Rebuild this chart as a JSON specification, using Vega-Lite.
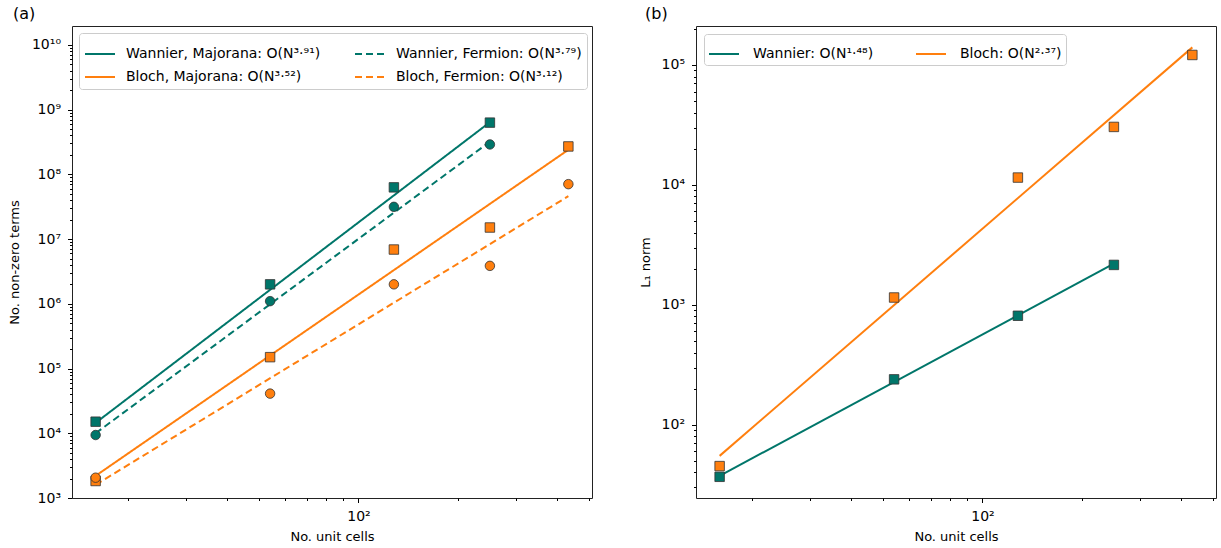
{
  "$schema": "https://vega.github.io/schema/vega-lite/v6.json",
  "padding": {"left": 7, "top": 5, "right": 5, "bottom": 5},
  "config": {
    "font": "DejaVu Sans",
    "view": {"stroke": "#222", "strokeWidth": 1},
    "axis": {"grid": false, "domain": false, "tickColor": "#000", "tickWidth": 1, "labelColor": "#000", "titleColor": "#000", "labelFontSize": 14, "titleFontSize": 13, "titleFontWeight": "normal", "labelFont": "DejaVu Sans", "titleFont": "DejaVu Sans"},
    "legend": {"labelFontSize": 14, "labelFont": "DejaVu Sans", "labelColor": "#000", "labelLimit": 400},
    "title": {"fontSize": 16, "fontWeight": "normal", "font": "DejaVu Sans", "color": "#000"}
  },
  "datasets": {
    "linesA": [
      {"N": 16, "v": 14500, "series": "Wannier, Majorana: O(N³·⁹¹)"},
      {"N": 250, "v": 640000000, "series": "Wannier, Majorana: O(N³·⁹¹)"},
      {"N": 16, "v": 10000, "series": "Wannier, Fermion: O(N³·⁷⁹)"},
      {"N": 250, "v": 320000000, "series": "Wannier, Fermion: O(N³·⁷⁹)"},
      {"N": 16, "v": 2200, "series": "Bloch, Majorana: O(N³·⁵²)"},
      {"N": 432, "v": 240000000, "series": "Bloch, Majorana: O(N³·⁵²)"},
      {"N": 16, "v": 1600, "series": "Bloch, Fermion: O(N³·¹²)"},
      {"N": 432, "v": 46000000, "series": "Bloch, Fermion: O(N³·¹²)"}
    ],
    "ptsA": [
      {"N": 16, "v": 15100, "series": "Wannier, Majorana: O(N³·⁹¹)", "marker": "square"},
      {"N": 54, "v": 2000000, "series": "Wannier, Majorana: O(N³·⁹¹)", "marker": "square"},
      {"N": 128, "v": 63000000, "series": "Wannier, Majorana: O(N³·⁹¹)", "marker": "square"},
      {"N": 250, "v": 630000000, "series": "Wannier, Majorana: O(N³·⁹¹)", "marker": "square"},
      {"N": 16, "v": 1830, "series": "Bloch, Majorana: O(N³·⁵²)", "marker": "square"},
      {"N": 54, "v": 150000, "series": "Bloch, Majorana: O(N³·⁵²)", "marker": "square"},
      {"N": 128, "v": 6900000, "series": "Bloch, Majorana: O(N³·⁵²)", "marker": "square"},
      {"N": 250, "v": 15100000, "series": "Bloch, Majorana: O(N³·⁵²)", "marker": "square"},
      {"N": 432, "v": 270000000, "series": "Bloch, Majorana: O(N³·⁵²)", "marker": "square"},
      {"N": 16, "v": 9400, "series": "Wannier, Fermion: O(N³·⁷⁹)", "marker": "circle"},
      {"N": 54, "v": 1100000, "series": "Wannier, Fermion: O(N³·⁷⁹)", "marker": "circle"},
      {"N": 128, "v": 31500000, "series": "Wannier, Fermion: O(N³·⁷⁹)", "marker": "circle"},
      {"N": 250, "v": 290000000, "series": "Wannier, Fermion: O(N³·⁷⁹)", "marker": "circle"},
      {"N": 16, "v": 2060, "series": "Bloch, Fermion: O(N³·¹²)", "marker": "circle"},
      {"N": 54, "v": 41000, "series": "Bloch, Fermion: O(N³·¹²)", "marker": "circle"},
      {"N": 128, "v": 2000000, "series": "Bloch, Fermion: O(N³·¹²)", "marker": "circle"},
      {"N": 250, "v": 3860000, "series": "Bloch, Fermion: O(N³·¹²)", "marker": "circle"},
      {"N": 432, "v": 70600000, "series": "Bloch, Fermion: O(N³·¹²)", "marker": "circle"}
    ],
    "linesB": [
      {"N": 16, "v": 37.5, "series": "Wannier: O(N¹·⁴⁸)"},
      {"N": 250, "v": 2200, "series": "Wannier: O(N¹·⁴⁸)"},
      {"N": 16, "v": 55, "series": "Bloch: O(N²·³⁷)"},
      {"N": 432, "v": 140000, "series": "Bloch: O(N²·³⁷)"}
    ],
    "ptsB": [
      {"N": 16, "v": 36.8, "series": "Wannier: O(N¹·⁴⁸)"},
      {"N": 54, "v": 239, "series": "Wannier: O(N¹·⁴⁸)"},
      {"N": 128, "v": 810, "series": "Wannier: O(N¹·⁴⁸)"},
      {"N": 250, "v": 2150, "series": "Wannier: O(N¹·⁴⁸)"},
      {"N": 16, "v": 45.2, "series": "Bloch: O(N²·³⁷)"},
      {"N": 54, "v": 1150, "series": "Bloch: O(N²·³⁷)"},
      {"N": 128, "v": 11500, "series": "Bloch: O(N²·³⁷)"},
      {"N": 250, "v": 30400, "series": "Bloch: O(N²·³⁷)"},
      {"N": 432, "v": 121000, "series": "Bloch: O(N²·³⁷)"}
    ]
  },
  "spacing": 45,
  "hconcat": [
    {
      "width": 520,
      "height": 472,
      "title": {"text": "(a)", "anchor": "start", "frame": "group", "dx": -59, "offset": 4},
      "layer": [
        {
          "data": {"name": "linesA"},
          "mark": {"type": "line", "strokeWidth": 2, "clip": true},
          "encoding": {
            "x": {"field": "N", "type": "quantitative", "scale": {"type": "log", "domain": [13.57, 509.4], "nice": false},
              "axis": {"orient": "bottom", "values": [100], "tickSize": 4.5, "labelPadding": 7, "title": "No. unit cells", "titlePadding": 7,
                "labelExpr": "'10' + replace(replace(replace(replace(replace(replace(replace(replace(replace(replace(''+round(log(datum.value)/LN10),'0','⁰'),'1','¹'),'2','²'),'3','³'),'4','⁴'),'5','⁵'),'6','⁶'),'7','⁷'),'8','⁸'),'9','⁹')"}},
            "y": {"field": "v", "type": "quantitative", "scale": {"type": "log", "domain": [1000, 19600000000], "nice": false},
              "axis": {"orient": "left", "values": [1000, 10000, 100000, 1000000, 10000000, 100000000, 1000000000, 10000000000], "tickSize": 4.5, "labelPadding": 7, "title": "No. non-zero terms", "titlePadding": 10,
                "labelExpr": "'10' + replace(replace(replace(replace(replace(replace(replace(replace(replace(replace(''+round(log(datum.value)/LN10),'0','⁰'),'1','¹'),'2','²'),'3','³'),'4','⁴'),'5','⁵'),'6','⁶'),'7','⁷'),'8','⁸'),'9','⁹')"}},
            "color": {"field": "series", "type": "nominal",
              "scale": {"domain": ["Wannier, Majorana: O(N³·⁹¹)", "Bloch, Majorana: O(N³·⁵²)", "Wannier, Fermion: O(N³·⁷⁹)", "Bloch, Fermion: O(N³·¹²)"], "range": ["#00766a", "#ff7f0e", "#00766a", "#ff7f0e"]},
              "legend": {"title": null, "orient": "top-left", "offset": 7, "columns": 2, "symbolType": "stroke", "symbolSize": 900, "symbolStrokeWidth": 2, "labelOffset": 10, "columnPadding": 30, "rowPadding": 0, "padding": 5, "fillColor": "white", "strokeColor": "#ccc", "cornerRadius": 3}},
            "strokeDash": {"field": "series", "type": "nominal",
              "scale": {"domain": ["Wannier, Majorana: O(N³·⁹¹)", "Bloch, Majorana: O(N³·⁵²)", "Wannier, Fermion: O(N³·⁷⁹)", "Bloch, Fermion: O(N³·¹²)"], "range": [[1, 0], [1, 0], [7, 4], [7, 4]]},
              "legend": {"title": null, "orient": "top-left", "offset": 7, "columns": 2, "symbolType": "stroke", "symbolSize": 900, "symbolStrokeWidth": 2, "labelOffset": 10, "columnPadding": 30, "rowPadding": 0, "padding": 5, "fillColor": "white", "strokeColor": "#ccc", "cornerRadius": 3}}
          }
        },
        {
          "data": {"name": "ptsA"},
          "mark": {"type": "point", "filled": true, "opacity": 1, "stroke": "#333", "strokeWidth": 1, "strokeOpacity": 0.8, "size": 90},
          "encoding": {
            "x": {"field": "N", "type": "quantitative", "scale": {"type": "log", "domain": [13.57, 509.4], "nice": false},
              "axis": {"orient": "bottom", "values": [20, 30, 40, 50, 60, 70, 80, 90, 200, 300, 400, 500], "tickSize": 2.5, "labels": false, "title": null}},
            "y": {"field": "v", "type": "quantitative", "scale": {"type": "log", "domain": [1000, 19600000000], "nice": false},
              "axis": {"orient": "left", "values": [2e3, 3e3, 4e3, 5e3, 6e3, 7e3, 8e3, 9e3, 2e4, 3e4, 4e4, 5e4, 6e4, 7e4, 8e4, 9e4, 2e5, 3e5, 4e5, 5e5, 6e5, 7e5, 8e5, 9e5, 2e6, 3e6, 4e6, 5e6, 6e6, 7e6, 8e6, 9e6, 2e7, 3e7, 4e7, 5e7, 6e7, 7e7, 8e7, 9e7, 2e8, 3e8, 4e8, 5e8, 6e8, 7e8, 8e8, 9e8, 2e9, 3e9, 4e9, 5e9, 6e9, 7e9, 8e9, 9e9], "tickSize": 2.5, "labels": false, "title": null}},
            "color": {"field": "series", "type": "nominal", "legend": null},
            "shape": {"field": "marker", "type": "nominal", "scale": {"domain": ["square", "circle"], "range": ["square", "circle"]}, "legend": null}
          }
        }
      ],
      "resolve": {"axis": {"x": "independent", "y": "independent"}}
    },
    {
      "width": 520,
      "height": 472,
      "title": {"text": "(b)", "anchor": "start", "frame": "group", "dx": -51, "offset": 4},
      "layer": [
        {
          "data": {"name": "linesB"},
          "mark": {"type": "line", "strokeWidth": 2, "clip": true},
          "encoding": {
            "x": {"field": "N", "type": "quantitative", "scale": {"type": "log", "domain": [13.57, 509.4], "nice": false},
              "axis": {"orient": "bottom", "values": [100], "tickSize": 4.5, "labelPadding": 7, "title": "No. unit cells", "titlePadding": 7,
                "labelExpr": "'10' + replace(replace(replace(replace(replace(replace(replace(replace(replace(replace(''+round(log(datum.value)/LN10),'0','⁰'),'1','¹'),'2','²'),'3','³'),'4','⁴'),'5','⁵'),'6','⁶'),'7','⁷'),'8','⁸'),'9','⁹')"}},
            "y": {"field": "v", "type": "quantitative", "scale": {"type": "log", "domain": [24.5, 211000], "nice": false},
              "axis": {"orient": "left", "values": [100, 1000, 10000, 100000], "tickSize": 4.5, "labelPadding": 7, "title": "L₁ norm", "titlePadding": 9,
                "labelExpr": "'10' + replace(replace(replace(replace(replace(replace(replace(replace(replace(replace(''+round(log(datum.value)/LN10),'0','⁰'),'1','¹'),'2','²'),'3','³'),'4','⁴'),'5','⁵'),'6','⁶'),'7','⁷'),'8','⁸'),'9','⁹')"}},
            "color": {"field": "series", "type": "nominal",
              "scale": {"domain": ["Wannier: O(N¹·⁴⁸)", "Bloch: O(N²·³⁷)"], "range": ["#00766a", "#ff7f0e"]},
              "legend": {"title": null, "orient": "top-left", "offset": 8, "columns": 2, "symbolType": "stroke", "symbolSize": 900, "symbolStrokeWidth": 2, "labelOffset": 13, "columnPadding": 38, "padding": 4, "fillColor": "white", "strokeColor": "#ccc", "cornerRadius": 3}}
          }
        },
        {
          "data": {"name": "ptsB"},
          "mark": {"type": "point", "shape": "square", "filled": true, "opacity": 1, "stroke": "#333", "strokeWidth": 1, "strokeOpacity": 0.8, "size": 90},
          "encoding": {
            "x": {"field": "N", "type": "quantitative", "scale": {"type": "log", "domain": [13.57, 509.4], "nice": false},
              "axis": {"orient": "bottom", "values": [20, 30, 40, 50, 60, 70, 80, 90, 200, 300, 400, 500], "tickSize": 2.5, "labels": false, "title": null}},
            "y": {"field": "v", "type": "quantitative", "scale": {"type": "log", "domain": [24.5, 211000], "nice": false},
              "axis": {"orient": "left", "values": [30, 40, 50, 60, 70, 80, 90, 200, 300, 400, 500, 600, 700, 800, 900, 2000, 3000, 4000, 5000, 6000, 7000, 8000, 9000, 20000, 30000, 40000, 50000, 60000, 70000, 80000, 90000, 200000], "tickSize": 2.5, "labels": false, "title": null}},
            "color": {"field": "series", "type": "nominal", "legend": null}
          }
        }
      ],
      "resolve": {"axis": {"x": "independent", "y": "independent"}}
    }
  ],
  "resolve": {"scale": {"color": "independent", "strokeDash": "independent", "x": "independent", "y": "independent"}}
}
